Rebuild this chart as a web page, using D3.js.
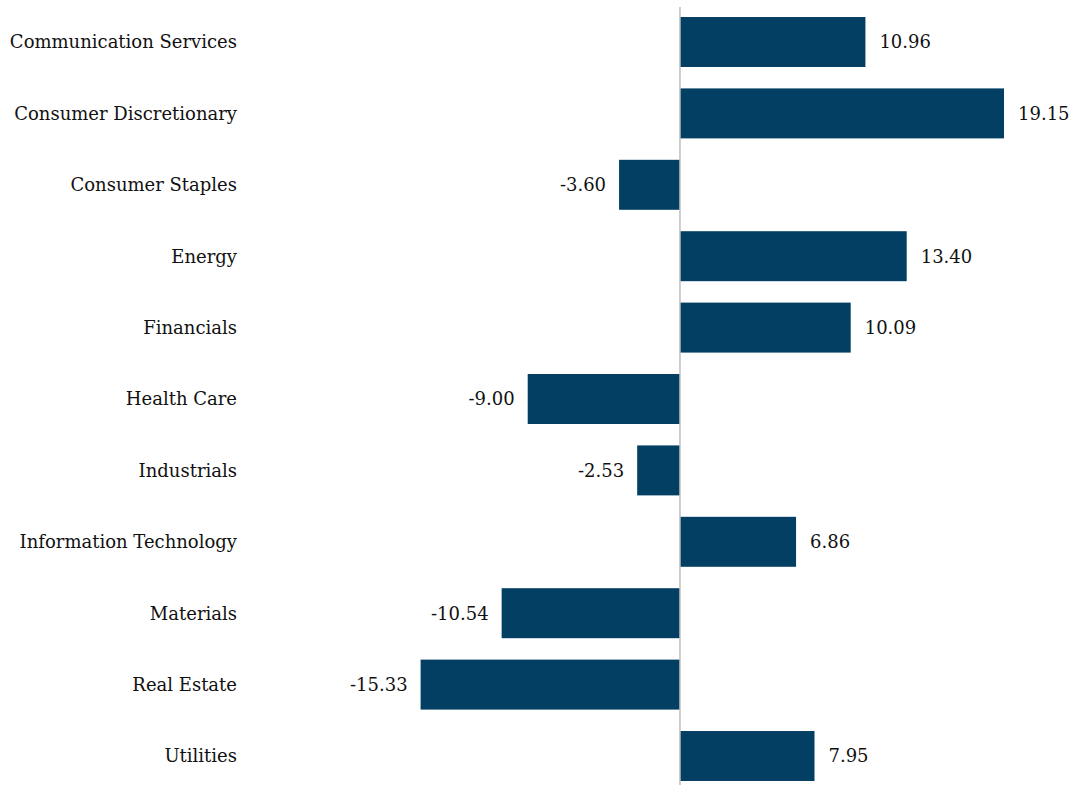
<!DOCTYPE html>
<html>
<head>
<script src="https://cdn.jsdelivr.net/npm/d3@7"></script>
<style>
  body { margin: 0; background: #fff; }
</style>
</head>
<body>
<svg id="chart" width="1074" height="786"></svg>
<script>
const sectors = ["Communication Services", "Consumer Discretionary", "Consumer Staples", "Energy",
  "Financials", "Health Care", "Industrials", "Information Technology", "Materials", "Real Estate", "Utilities"];
const returns = [10.96, 19.15, -3.60, 13.40, 10.09, -9.00, -2.53, 6.86, -10.54, -15.33, 7.95];

const svg = d3.select("#chart");
const font = "'DejaVu Serif', 'Liberation Serif', serif";

const x = d3.scaleLinear().domain([-15.33, 19.15]).range([420.6, 1004]);
const y = d3.scaleBand().domain(sectors).range([6.3, 791.7]).paddingInner(0.3).paddingOuter(0.15);

const data = sectors.map((s, i) => ({ name: s, value: returns[i] }));

// bars
svg.selectAll("rect.bar").data(data).enter().append("rect")
  .attr("class", "bar")
  .attr("x", d => x(Math.min(0, d.value)))
  .attr("y", d => y(d.name))
  .attr("width", d => Math.abs(x(d.value) - x(0)))
  .attr("height", y.bandwidth())
  .attr("fill", "#033f62");

// zero line
svg.append("line")
  .attr("x1", x(0)).attr("x2", x(0))
  .attr("y1", 7).attr("y2", 785)
  .attr("stroke", "#bfbfbf").attr("stroke-width", 1.5);

// category labels
svg.selectAll("text.cat").data(data).enter().append("text")
  .attr("class", "cat")
  .attr("x", 237)
  .attr("y", d => y(d.name) + y.bandwidth() / 2)
  .attr("dy", "0.35em")
  .attr("text-anchor", "end")
  .attr("font-family", font)
  .attr("font-size", 18)
  .attr("fill", "#111")
  .text(d => d.name);

// value labels
svg.selectAll("text.val").data(data).enter().append("text")
  .attr("class", "val")
  .attr("x", d => d.value >= 0 ? x(d.value) + 14 : x(d.value) - 13)
  .attr("y", d => y(d.name) + y.bandwidth() / 2)
  .attr("dy", "0.35em")
  .attr("text-anchor", d => d.value >= 0 ? "start" : "end")
  .attr("font-family", font)
  .attr("font-size", 18)
  .attr("fill", "#111")
  .text(d => d.value.toFixed(2));
</script>
</body>
</html>
